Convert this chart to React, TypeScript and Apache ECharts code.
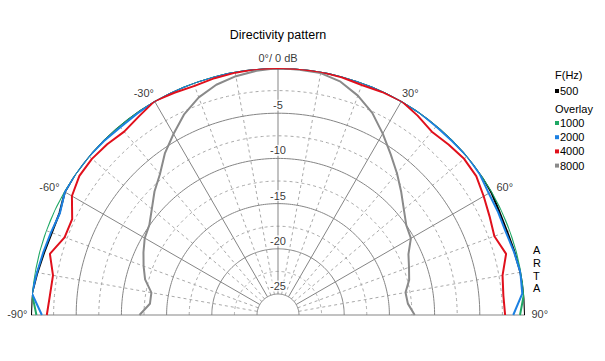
import React, { useEffect, useRef } from 'react';
import * as echarts from 'echarts';

// Angles (degrees) at which the responses were read
const ANGLES = [-90, -85, -80, -75, -70, -65, -60, -55, -50, -45, -40, -35, -30, -25, -20, -15, -10, -5, 0,
  5, 10, 15, 20, 25, 30, 35, 40, 45, 50, 55, 60, 65, 70, 75, 80, 85, 90];

// Relative level (dB) per frequency
const DB_500 = [0, 0, -0.3, -0.55, -0.7, -0.65, -0.1, 0, 0, 0, 0, 0, 0, 0, 0, 0, 0, 0, 0,
  0, 0, 0, 0, 0, 0, 0, 0, 0, 0, 0, -0.1, -0.3, -0.35, -0.25, -0.1, 0, 0];
const DB_1000 = [-0.6, 0, 0, 0, 0, 0, 0, 0, 0, 0, 0, 0, 0, 0, 0, 0, 0, 0, 0,
  0, 0, 0, 0, 0, 0, 0, 0, 0, 0, 0, 0, 0, 0, 0, 0, 0, -0.55];
const DB_2000 = [-1.2, 0, -0.25, -0.45, -0.6, -0.7, -0.1, 0, 0, -0.1, -0.2, -0.15, 0, 0, 0, 0, 0, 0, 0,
  0, 0, 0, 0, 0, 0, 0, -0.1, -0.1, 0, -0.1, -0.4, -0.45, -0.5, -0.3, -0.1, -0.2, -1.3];
const DB_4000 = [-1.75, -2.0, -2.05, -1.2, -2.2, -2.2, -1.0, -0.5, -0.45, -0.6, -0.85, -0.5, 0, -0.2, -0.35, -0.2, -0.1, 0, 0,
  0, 0, -0.1, -0.25, -0.1, 0, -0.4, -0.85, -0.65, -0.45, -0.55, -1.05, -1.5, -1.85, -1.2, -2.1, -2.3, -2.2];
const DB_8000 = [-12.0, -13.1, -13.1, -12.1, -11.5, -10.9, -10.3, -9.95, -9.1, -8.0, -7.0, -5.5, -4.2, -2.8, -1.7, -0.95, -0.5, -0.2, 0,
  -0.1, -0.15, -0.6, -1.5, -2.65, -4.15, -5.6, -6.85, -8.05, -9.15, -10.0, -10.35, -11.4, -11.9, -12.3, -13.0, -12.9, -12.2];

const MAIN_FREQ = ['500'];
const OVERLAY_FREQ = ['1000', '2000', '4000', '8000'];

// Grid
const R_MIN = -27.32;
const R_MAX = 0;
const RING_SOLID = [-25, -20, -15, -10, -5];
const RING_DASHED = [-22.5, -17.5, -12.5, -7.5, -2.5];
const SPOKE_SOLID = [-60, -30, 0, 30, 60];
const SPOKE_BASE = [-90, 90];
const SPOKE_DASHED = [-80, -70, -50, -40, -20, -10, 10, 20, 40, 50, 70, 80];
const RADIUS_LABELS = [-5, -10, -15, -20, -25];
const ANGLE_LABELS = [-90, -60, -30, 0, 30, 60, 90];

const FONT = '"Liberation Sans", Arial, sans-serif';
const COLORS: Record<string, string> = {
  '500': '#000000',
  '1000': '#1fa865',
  '2000': '#1c80e2',
  '4000': '#e0101c',
  '8000': '#8a8a8a',
};

function ringData(r: number) {
  const d: number[][] = [];
  for (let a = -90; a <= 90; a += 1) d.push([r, a]);
  return d;
}

export default function App() {
  const ref = useRef<HTMLDivElement>(null);
  useEffect(() => {
    const chart = echarts.init(ref.current!, null, { renderer: 'svg' });
    const gridLine = (data: number[][], color: string, type: any) => ({
      type: 'line',
      coordinateSystem: 'polar',
      data,
      symbol: 'none',
      silent: true,
      z: 1,
      lineStyle: { color, width: 1, type },
    });
    const series: any[] = [];
    RING_DASHED.forEach((r) => series.push(gridLine(ringData(r), '#a9a9a9', [3, 3])));
    SPOKE_DASHED.forEach((a) => series.push(gridLine([[-25, a], [R_MAX, a]], '#a9a9a9', [3, 3])));
    RING_SOLID.forEach((r) => series.push(gridLine(ringData(r), '#858585', 'solid')));
    SPOKE_SOLID.forEach((a) => series.push(gridLine([[-25, a], [R_MAX, a]], '#858585', 'solid')));
    SPOKE_BASE.forEach((a) => series.push(gridLine([[R_MIN, a], [R_MAX, a]], '#858585', 'solid')));

    const curves: [string, number[]][] = [
      ['500', DB_500],
      ['1000', DB_1000],
      ['2000', DB_2000],
      ['8000', DB_8000],
      ['4000', DB_4000],
    ];
    curves.forEach(([name, vals]) =>
      series.push({
        name,
        type: 'line',
        coordinateSystem: 'polar',
        data: ANGLES.map((a, i) => [vals[i], a]),
        symbol: 'none',
        silent: true,
        z: 3,
        lineStyle: { color: COLORS[name], width: 2 },
        itemStyle: { color: COLORS[name] },
      })
    );

    series.push({
      type: 'scatter',
      coordinateSystem: 'polar',
      symbolSize: 1,
      itemStyle: { color: 'rgba(0,0,0,0)' },
      silent: true,
      z: 5,
      data: RADIUS_LABELS.map((v) => [v, 0]),
      label: {
        show: true,
        position: 'top',
        distance: 2,
        formatter: (p: any) => String(p.value[0]),
        color: '#000',
        fontSize: 11,
        fontFamily: FONT,
        backgroundColor: '#fff',
        padding: [0, 1],
      },
    });

    const angleLabelCfg: Record<number, any> = {
      [-90]: { position: 'left', distance: 3, offset: [0, -1] },
      [-60]: { position: 'left', distance: 4, offset: [0, -5] },
      [-30]: { position: 'left', distance: 0, offset: [0, -8] },
      [0]: { position: 'top', distance: 4, offset: [0, 0] },
      [30]: { position: 'right', distance: 0, offset: [0, -8] },
      [60]: { position: 'right', distance: 4, offset: [0, -5] },
      [90]: { position: 'right', distance: 6, offset: [0, -1] },
    };
    series.push({
      type: 'scatter',
      coordinateSystem: 'polar',
      symbolSize: 1,
      itemStyle: { color: 'rgba(0,0,0,0)' },
      silent: true,
      z: 5,
      data: ANGLE_LABELS.map((a) => ({
        value: [R_MAX, a],
        label: {
          show: true,
          ...angleLabelCfg[a],
          formatter: a === 0 ? '0°/ 0 dB' : `${a}°`,
          color: '#000',
          fontSize: 11,
          fontFamily: FONT,
        },
      })),
    });

    const legendBase = {
      orient: 'vertical',
      left: 555,
      itemWidth: 4,
      itemHeight: 4,
      itemGap: 2.2,
      padding: 0,
      icon: 'rect',
      selectedMode: false,
      textStyle: { fontSize: 11, color: '#000', fontFamily: FONT, lineHeight: 12, padding: [0, 0, 0, -4] },
    };

    chart.setOption({
      animation: false,
      backgroundColor: '#ffffff',
      textStyle: { fontFamily: FONT },
      title: {
        text: 'Directivity pattern',
        left: 278,
        textAlign: 'center',
        top: 28,
        padding: 0,
        textStyle: { fontSize: 12.5, fontWeight: 'normal', color: '#000', fontFamily: FONT },
      },
      polar: { center: [278, 315], radius: 247 },
      angleAxis: {
        type: 'value',
        min: -180,
        max: 180,
        startAngle: 270,
        clockwise: true,
        axisLine: { show: false },
        axisTick: { show: false },
        axisLabel: { show: false },
        splitLine: { show: false },
      },
      radiusAxis: {
        type: 'value',
        min: R_MIN,
        max: R_MAX,
        axisLine: { show: false },
        axisTick: { show: false },
        axisLabel: { show: false },
        splitLine: { show: false },
      },
      legend: [
        { ...legendBase, top: 85, data: MAIN_FREQ },
        { ...legendBase, top: 117, data: OVERLAY_FREQ },
      ],
      graphic: [
        { type: 'text', left: 555, top: 69, style: { text: 'F(Hz)', fontSize: 11, fill: '#000', fontFamily: FONT } },
        { type: 'text', left: 555, top: 103, style: { text: 'Overlay', fontSize: 11, fill: '#000', fontFamily: FONT } },
        {
          type: 'text',
          left: 533,
          top: 244,
          style: { text: 'A\nR\nT\nA', fontSize: 11, lineHeight: 12.6, fill: '#000', fontFamily: FONT, align: 'center' },
        },
      ],
      series,
    });
    return () => chart.dispose();
  }, []);
  return (
    <div
      ref={ref}
      style={{ position: 'absolute', left: 0, top: 0, width: 605, height: 361, background: '#fff' }}
    />
  );
}
